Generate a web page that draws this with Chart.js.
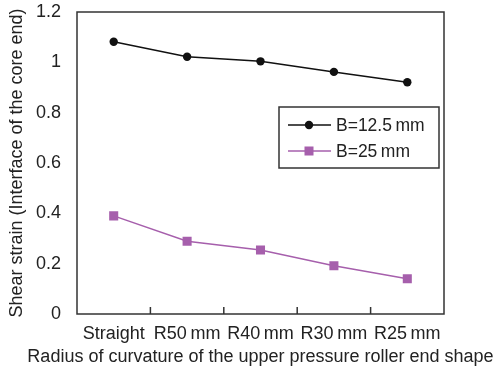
<!DOCTYPE html>
<html>
<head>
<meta charset="utf-8">
<script src="https://cdn.jsdelivr.net/npm/chart.js@4/dist/chart.umd.min.js"></script>
<style>
  html, body { margin: 0; padding: 0; background: #fff; }
  #wrap { width: 495px; height: 371px; position: relative; }
</style>
</head>
<body>
<div id="wrap"><canvas id="chart"></canvas></div>
<script>
const categories = ["Straight", "R50\u2009mm", "R40\u2009mm", "R30\u2009mm", "R25\u2009mm"];
const seriesNames = ["B=12.5\u2009mm", "B=25\u2009mm"];
const b125 = [1.082, 1.022, 1.004, 0.962, 0.921];
const b25 = [0.39, 0.289, 0.254, 0.192, 0.14];
const yTicks = [0, 0.2, 0.4, 0.6, 0.8, 1, 1.2];
const xTitle = "Radius of curvature of the upper pressure roller end shape";

const FONT = "'Liberation Sans', Arial, sans-serif";
const AXIS = "#333";
const TEXT = "#222";
const PURPLE = "#a65fac";

// box around plot, inward x ticks, x title, legend inside the plot
const framePlugin = {
  id: "frame",
  afterDraw(chart) {
    const { ctx, chartArea: a, scales } = chart;
    ctx.save();
    ctx.strokeStyle = AXIS;
    ctx.lineWidth = 1.5;
    ctx.strokeRect(a.left, a.top, a.right - a.left, a.bottom - a.top);
    const x = scales.x;
    for (let i = 0; i < categories.length - 1; i++) {
      const px = (x.getPixelForValue(i) + x.getPixelForValue(i + 1)) / 2;
      ctx.beginPath();
      ctx.moveTo(px, a.bottom);
      ctx.lineTo(px, a.bottom - 7);
      ctx.stroke();
    }
    ctx.fillStyle = TEXT;
    ctx.font = "18px " + FONT;
    ctx.textAlign = "center";
    ctx.textBaseline = "middle";
    ctx.fillText(xTitle, (a.left + a.right) / 2, 357);

    // legend
    const lx = 279, ly = 107, lw = 160, lh = 61;
    ctx.fillStyle = "#fff";
    ctx.fillRect(lx, ly, lw, lh);
    ctx.lineWidth = 1.5;
    ctx.strokeRect(lx, ly, lw, lh);
    chart.data.datasets.forEach((ds, i) => {
      const cy = ly + 18 + i * 26;
      ctx.strokeStyle = ds.borderColor;
      ctx.lineWidth = 1.5;
      ctx.beginPath();
      ctx.moveTo(lx + 9, cy);
      ctx.lineTo(lx + 52, cy);
      ctx.stroke();
      ctx.fillStyle = ds.backgroundColor;
      if (ds.pointStyle === "rect") {
        ctx.fillRect(lx + 30 - 4.5, cy - 4.5, 9, 9);
      } else {
        ctx.beginPath();
        ctx.arc(lx + 30, cy, 4.2, 0, Math.PI * 2);
        ctx.fill();
      }
      ctx.fillStyle = TEXT;
      ctx.font = "17.5px " + FONT;
      ctx.textBaseline = "middle";
      ctx.textAlign = "left";
      ctx.fillText(ds.label, lx + 57, cy + 1);
    });
    ctx.restore();
  }
};

new Chart(document.getElementById("chart"), {
  type: "line",
  data: {
    labels: categories,
    datasets: [
      {
        label: seriesNames[0], data: b125,
        borderColor: "#111", backgroundColor: "#111", borderWidth: 1.5,
        pointStyle: "circle", pointRadius: 4.2, pointBorderWidth: 0, tension: 0
      },
      {
        label: seriesNames[1], data: b25,
        borderColor: PURPLE, backgroundColor: PURPLE, borderWidth: 1.5,
        pointStyle: "rect", pointRadius: 6.4, pointBorderWidth: 0, tension: 0
      }
    ]
  },
  options: {
    responsive: true,
    maintainAspectRatio: false,
    animation: false,
    layout: { padding: { top: 12, right: 51, bottom: 0, left: 0 } },
    plugins: { legend: { display: false }, tooltip: { enabled: false } },
    scales: {
      x: {
        offset: true,
        grid: { display: false },
        border: { display: false },
        ticks: { color: TEXT, font: { family: FONT, size: 18 }, padding: 1, maxRotation: 0, autoSkip: false },
        afterFit(s) { s.height = 57; s.paddingLeft = 0; s.paddingRight = 0; }
      },
      y: {
        min: 0, max: 1.2,
        afterBuildTicks(s) { s.ticks = yTicks.map(v => ({ value: v })); },
        grid: { display: false },
        border: { display: false },
        ticks: { color: TEXT, font: { family: FONT, size: 18 }, padding: 8, callback: v => String(+v.toFixed(1)) },
        title: { display: true, text: "Shear strain (Interface of the core end)", color: TEXT, font: { family: FONT, size: 18 }, padding: { top: 6, bottom: 6 } },
        afterFit(s) { s.width = 77; s.paddingTop = 0; s.paddingBottom = 0; }
      }
    }
  },
  plugins: [framePlugin]
});
</script>
</body>
</html>
